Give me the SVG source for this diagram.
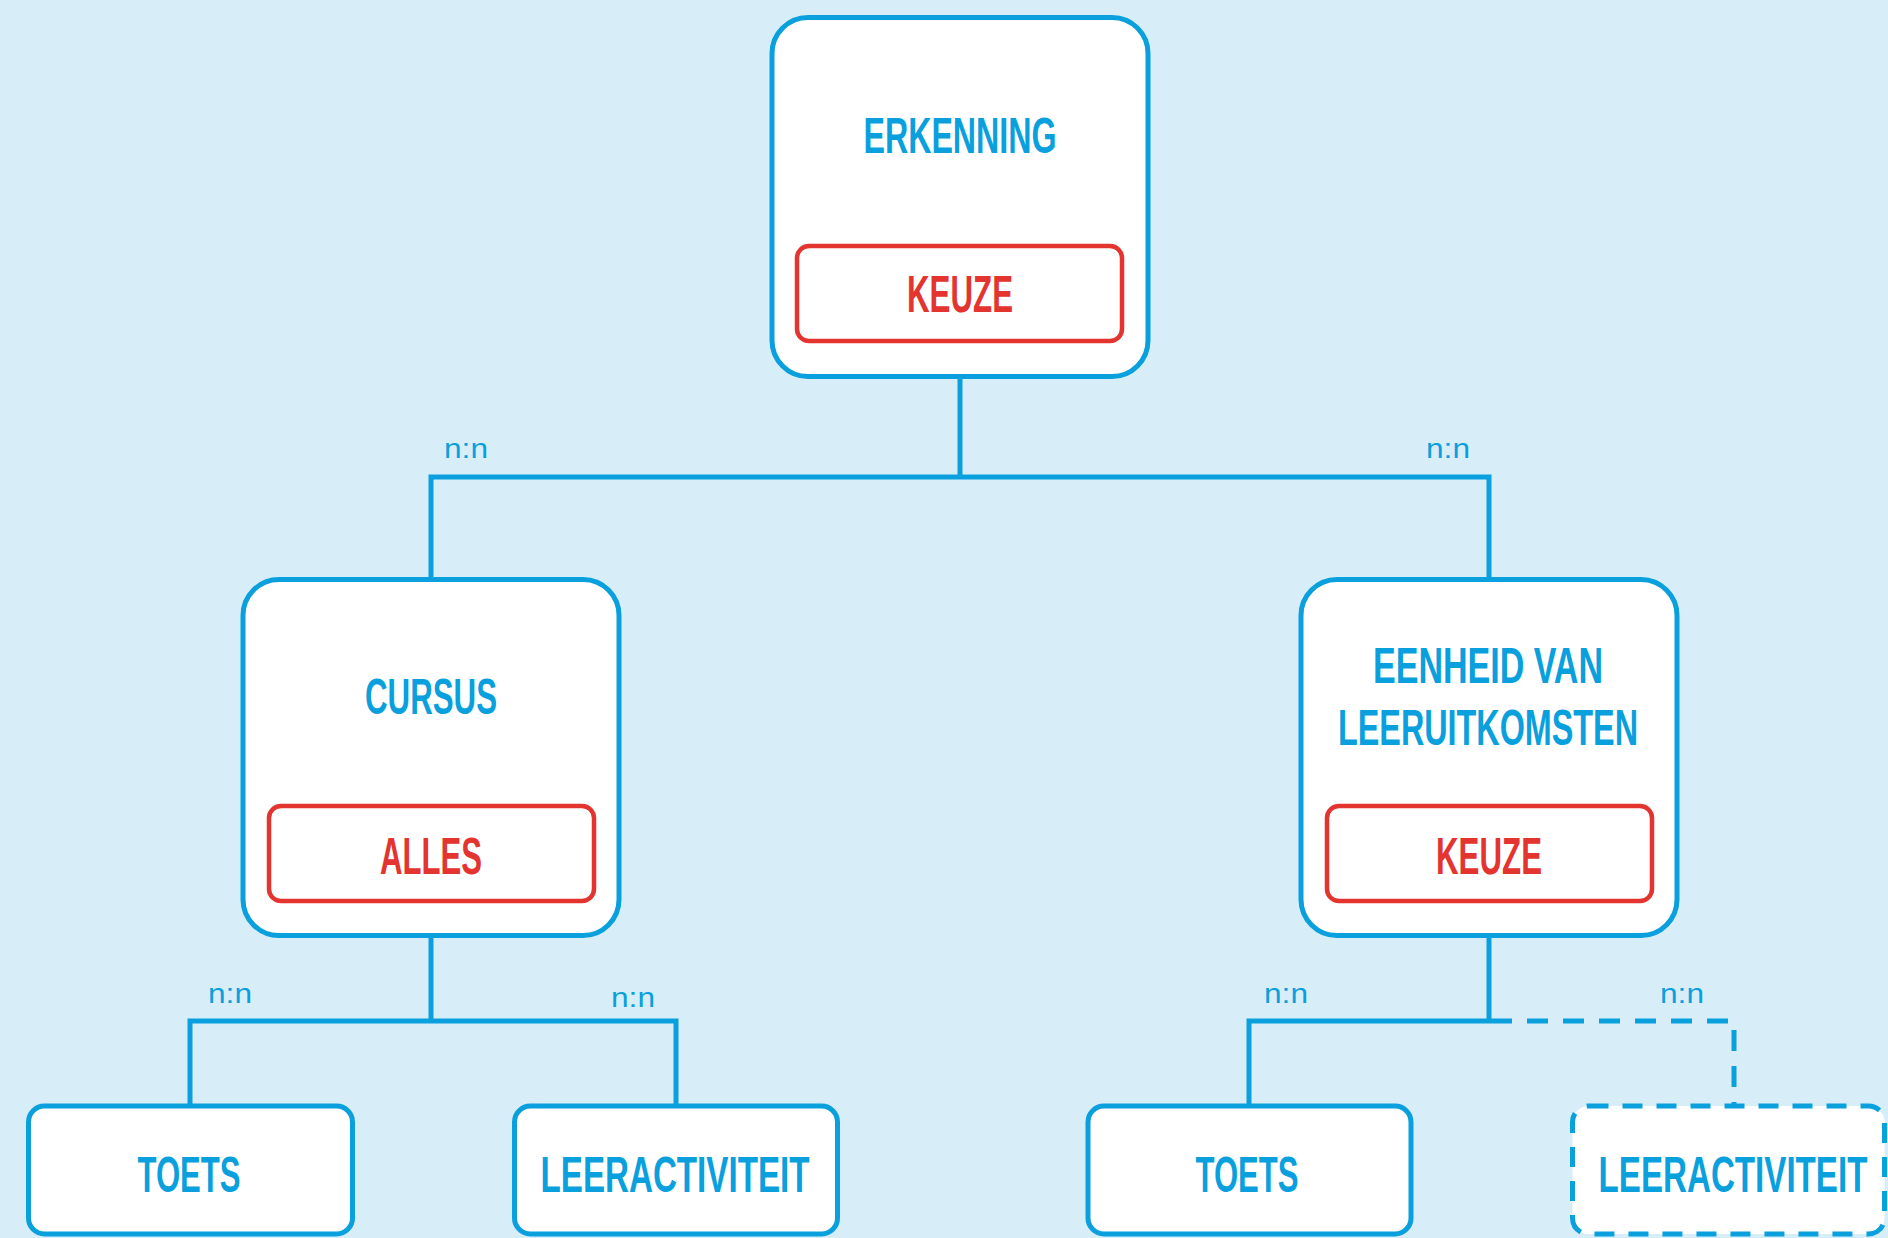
<svg xmlns="http://www.w3.org/2000/svg" width="1888" height="1238" viewBox="0 0 1888 1238">
<style>
.bg{fill:#d7eef9}
.box{fill:#ffffff;stroke:#0a9fdd;stroke-width:5}
.dbox{fill:#ffffff;stroke:#0a9fdd;stroke-width:5;stroke-dasharray:20 14}
.red{fill:#ffffff;stroke:#e3342f;stroke-width:4.5}
.t{font-family:"Liberation Sans",Arial,sans-serif;font-weight:bold;font-size:50px;fill:#0a9fdd;text-anchor:middle}
.r{font-family:"Liberation Sans",Arial,sans-serif;font-weight:bold;font-size:52px;fill:#e3342f;text-anchor:middle}
.lbl{font-family:"Liberation Sans",Arial,sans-serif;font-size:27px;fill:#0a9fdd}
.c{fill:none;stroke:#0a9fdd;stroke-width:5;stroke-linejoin:miter}
.cd{fill:none;stroke:#0a9fdd;stroke-width:5;stroke-dasharray:21 15}
</style>
<rect class="bg" x="0" y="0" width="1888" height="1238"/>
<g id="connectors">
<path class="c" d="M960 377 V477"/>
<path class="c" d="M431 580 V477 H1489 V580"/>
<path class="c" d="M431 936 V1021"/>
<path class="c" d="M190 1106 V1021 H676 V1106"/>
<path class="c" d="M1489 936 V1021"/>
<path class="c" d="M1249 1106 V1021 H1491"/>
<path class="cd" d="M1491 1021 H1734 V1106"/>
<text class="lbl" x="444" y="458" textLength="44" lengthAdjust="spacingAndGlyphs">n:n</text>
<text class="lbl" x="1426" y="458" textLength="44" lengthAdjust="spacingAndGlyphs">n:n</text>
<text class="lbl" x="208" y="1003" textLength="44" lengthAdjust="spacingAndGlyphs">n:n</text>
<text class="lbl" x="611" y="1007" textLength="44" lengthAdjust="spacingAndGlyphs">n:n</text>
<text class="lbl" x="1264" y="1003" textLength="44" lengthAdjust="spacingAndGlyphs">n:n</text>
<text class="lbl" x="1660" y="1003" textLength="44" lengthAdjust="spacingAndGlyphs">n:n</text>
</g>
<g id="erkenning">
<rect class="box" x="772" y="17.5" width="376" height="359" rx="36"/>
<text class="t" x="960" y="153" textLength="193" lengthAdjust="spacingAndGlyphs">ERKENNING</text>
<rect class="red" x="797" y="246" width="325" height="95" rx="12"/>
<text class="r" x="960" y="312" textLength="106" lengthAdjust="spacingAndGlyphs">KEUZE</text>
</g>
<g id="cursus">
<rect class="box" x="243" y="579.5" width="376" height="356" rx="36"/>
<text class="t" x="431" y="714" textLength="132" lengthAdjust="spacingAndGlyphs">CURSUS</text>
<rect class="red" x="269" y="806" width="325" height="95" rx="12"/>
<text class="r" x="431" y="874" textLength="102" lengthAdjust="spacingAndGlyphs">ALLES</text>
</g>
<g id="eenheid">
<rect class="box" x="1301" y="579.5" width="376" height="356" rx="36"/>
<text class="t" x="1488" y="683" textLength="230" lengthAdjust="spacingAndGlyphs">EENHEID VAN</text>
<text class="t" x="1488" y="745" textLength="300" lengthAdjust="spacingAndGlyphs">LEERUITKOMSTEN</text>
<rect class="red" x="1327" y="806" width="325" height="95" rx="12"/>
<text class="r" x="1489" y="874" textLength="106" lengthAdjust="spacingAndGlyphs">KEUZE</text>
</g>
<g id="toets-1">
<rect class="box" x="28.5" y="1106" width="324" height="128" rx="16"/>
<text class="t" x="189" y="1192" textLength="103" lengthAdjust="spacingAndGlyphs">TOETS</text>
</g>
<g id="leeractiviteit-1">
<rect class="box" x="514.5" y="1106" width="323" height="128" rx="16"/>
<text class="t" x="675" y="1192" textLength="269" lengthAdjust="spacingAndGlyphs">LEERACTIVITEIT</text>
</g>
<g id="toets-2">
<rect class="box" x="1088" y="1106" width="323" height="128" rx="16"/>
<text class="t" x="1247" y="1192" textLength="103" lengthAdjust="spacingAndGlyphs">TOETS</text>
</g>
<g id="leeractiviteit-2">
<rect class="dbox" x="1572.5" y="1106" width="312" height="128" rx="16"/>
<text class="t" transform="translate(1733 1192) scale(0.663 1)" x="0" y="0">LEERACTIVITEIT</text>
</g>
</svg>
